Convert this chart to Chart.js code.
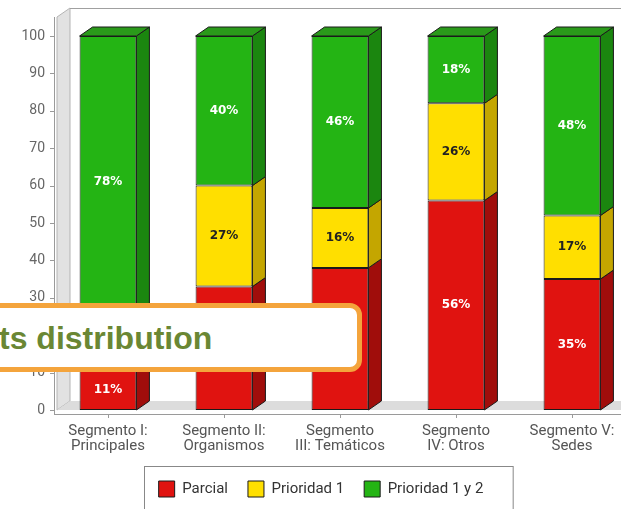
<!DOCTYPE html>
<html>
<head>
<meta charset="utf-8">
<script src="https://cdn.jsdelivr.net/npm/chart.js@4.4.1/dist/chart.umd.min.js"></script>
<style>
  html, body { margin: 0; padding: 0; background: #fff; }
  #wrap { position: relative; width: 621px; height: 509px; overflow: hidden; }
  #chart { position: absolute; left: 0; top: 0; }
  .callout {
    position: absolute; left: -30px; top: 303px;
    width: 382px; height: 59px;
    border: 5px solid #f4a43c; border-radius: 12px;
    background: #fff;
  }
  .callout span {
    position: absolute; left: 24px; top: 14px;
    font: bold 32px/32px "Liberation Sans", Arial, sans-serif;
    color: #6a8734; white-space: nowrap;
  }
</style>
</head>
<body>
<div id="wrap">
  <canvas id="chart" width="630" height="518"></canvas>
  <div class="callout"><span>ts distribution</span></div>
</div>
<script>
const CATEGORIES = [
  ['Segmento I:', 'Principales'],
  ['Segmento II:', 'Organismos'],
  ['Segmento', 'III: Temáticos'],
  ['Segmento', 'IV: Otros'],
  ['Segmento V:', 'Sedes'],
];
const SERIES_NAMES = ['Parcial', 'Prioridad 1', 'Prioridad 1 y 2'];
const PARCIAL       = [11, 33, 38, 56, 35];
const PRIORIDAD_1   = [11, 27, 16, 26, 17];
const PRIORIDAD_1Y2 = [78, 40, 46, 18, 48];
const Y_TICKS = [0, 10, 20, 30, 40, 50, 60, 70, 80, 90, 100];

// front / side / top face colours and label colour per series
const FACES = [
  { front: '#e01310', side: '#a00d0b', top: '#b81010', text: '#ffffff' },
  { front: '#ffdf00', side: '#c4a600', top: '#d8bc00', text: '#222222' },
  { front: '#24b414', side: '#1b860f', top: '#2a9a1a', text: '#ffffff' },
];

const DEPTH_X = 13;
const DEPTH_Y = 9;
const LEGEND_SHIFT = 6;

/** Fake 3D: wall, floor, axes, bar sides/tops and value labels */
const box3d = {
  id: 'box3d',
  afterLayout(chart) {
    // legend sits a little right of the canvas centre in the original
    chart.legend.left += LEGEND_SHIFT;
    chart.legend.right += LEGEND_SHIFT;
  },
  beforeDatasetsDraw(chart) {
    const { ctx, chartArea: a, scales } = chart;
    const axisX = a.left + 4;
    const wx = a.left + 7;
    ctx.save();
    ctx.lineWidth = 1;

    // left wall
    ctx.beginPath();
    ctx.moveTo(wx, a.top - 19);
    ctx.lineTo(wx + DEPTH_X, a.top - 19 - DEPTH_Y);
    ctx.lineTo(wx + DEPTH_X, a.bottom - DEPTH_Y);
    ctx.lineTo(wx, a.bottom);
    ctx.closePath();
    ctx.fillStyle = '#e2e2e2';
    ctx.fill();
    ctx.strokeStyle = '#b4b4b4';
    ctx.stroke();

    // floor
    ctx.beginPath();
    ctx.moveTo(wx, a.bottom);
    ctx.lineTo(wx + DEPTH_X, a.bottom - DEPTH_Y);
    ctx.lineTo(a.right, a.bottom - DEPTH_Y);
    ctx.lineTo(a.right, a.bottom);
    ctx.closePath();
    ctx.fillStyle = '#dcdcdc';
    ctx.fill();

    // back top edge
    ctx.beginPath();
    ctx.moveTo(wx + DEPTH_X, a.top - 19 - DEPTH_Y + 0.5);
    ctx.lineTo(a.right, a.top - 19 - DEPTH_Y + 0.5);
    ctx.strokeStyle = '#a0a0a0';
    ctx.stroke();

    // axes
    ctx.strokeStyle = '#9a9a9a';
    ctx.beginPath();
    ctx.moveTo(axisX + 0.5, a.top - 19);
    ctx.lineTo(axisX + 0.5, a.bottom + 4);
    ctx.moveTo(axisX, a.bottom + 4.5);
    ctx.lineTo(a.right, a.bottom + 4.5);
    Y_TICKS.forEach(v => {
      const y = Math.round(scales.y.getPixelForValue(v)) + 0.5;
      ctx.moveTo(a.left, y);
      ctx.lineTo(axisX, y);
    });
    CATEGORIES.forEach((c, i) => {
      const x = Math.round(scales.x.getPixelForTick(i)) + 0.5;
      ctx.moveTo(x, a.bottom + 4);
      ctx.lineTo(x, a.bottom + 8);
    });
    ctx.stroke();
    ctx.restore();
  },
  afterDatasetsDraw(chart) {
    const ctx = chart.ctx;
    const last = chart.data.datasets.length - 1;
    ctx.save();
    ctx.lineWidth = 1;
    ctx.strokeStyle = '#1a1a1a';
    chart.data.datasets.forEach((ds, di) => {
      const meta = chart.getDatasetMeta(di);
      const face = FACES[di];
      meta.data.forEach((bar, i) => {
        const { x, y, base, width } = bar.getProps(['x', 'y', 'base', 'width'], true);
        const l = x - width / 2, r = x + width / 2;
        const top = Math.min(y, base), bottom = Math.max(y, base);

        ctx.beginPath();
        ctx.moveTo(r, top);
        ctx.lineTo(r + DEPTH_X, top - DEPTH_Y);
        ctx.lineTo(r + DEPTH_X, bottom - DEPTH_Y);
        ctx.lineTo(r, bottom);
        ctx.closePath();
        ctx.fillStyle = face.side;
        ctx.fill();
        ctx.stroke();

        if (di === last) {
          ctx.beginPath();
          ctx.moveTo(l, top);
          ctx.lineTo(l + DEPTH_X, top - DEPTH_Y);
          ctx.lineTo(r + DEPTH_X, top - DEPTH_Y);
          ctx.lineTo(r, top);
          ctx.closePath();
          ctx.fillStyle = face.top;
          ctx.fill();
          ctx.stroke();
        }
      });
    });

    // value labels on the front faces
    ctx.font = 'bold 12px "DejaVu Sans"';
    ctx.textAlign = 'center';
    ctx.textBaseline = 'middle';
    chart.data.datasets.forEach((ds, di) => {
      const meta = chart.getDatasetMeta(di);
      ctx.fillStyle = FACES[di].text;
      meta.data.forEach((bar, i) => {
        const { x, y, base } = bar.getProps(['x', 'y', 'base'], true);
        ctx.fillText(ds.data[i] + '%', x, (y + base) / 2);
      });
    });
    ctx.restore();
  },
  afterDraw(chart) {
    // border around the legend
    const boxes = chart.legend.legendHitBoxes;
    if (!boxes || !boxes.length) return;
    const left = Math.min(...boxes.map(b => b.left)) - 15;
    const right = Math.max(...boxes.map(b => b.left + b.width)) + 29;
    const top = boxes[0].top - 15;
    const ctx = chart.ctx;
    ctx.save();
    ctx.strokeStyle = '#888';
    ctx.lineWidth = 1;
    ctx.strokeRect(Math.round(left) + 0.5, Math.round(top) + 0.5, right - left, 80);
    ctx.restore();
  },
};

Chart.defaults.font.family = 'Roboto';

const datasets = [PARCIAL, PRIORIDAD_1, PRIORIDAD_1Y2].map((data, i) => ({
  label: SERIES_NAMES[i],
  data,
  backgroundColor: FACES[i].front,
  borderColor: '#1a1a1a',
  borderWidth: 1,
  borderSkipped: false,
  barPercentage: 0.49,
  categoryPercentage: 1,
}));

new Chart(document.getElementById('chart'), {
  type: 'bar',
  data: { labels: CATEGORIES, datasets },
  options: {
    responsive: false,
    animation: false,
    layout: { padding: { top: 36, left: 0, right: 0, bottom: 11 } },
    plugins: {
      legend: {
        position: 'bottom',
        labels: {
          boxWidth: 16,
          boxHeight: 16,
          padding: 20,
          color: '#333',
          font: { size: 15 },
        },
      },
      tooltip: { enabled: false },
    },
    scales: {
      x: {
        stacked: true,
        grid: { display: false, drawTicks: false },
        border: { display: false },
        ticks: {
          color: '#555',
          font: { size: 15, lineHeight: 1 },
          padding: 14,
          maxRotation: 0,
          autoSkip: false,
        },
        afterFit: s => { s.height = 51; },
      },
      y: {
        stacked: true,
        min: 0,
        max: 100,
        grid: { display: false, drawTicks: false },
        border: { display: false },
        ticks: { color: '#666', font: { size: 14 }, padding: 5 },
        afterBuildTicks: s => { s.ticks = Y_TICKS.map(v => ({ value: v })); },
        afterFit: s => { s.width = 50; },
      },
    },
  },
  plugins: [box3d],
});
</script>
</body>
</html>
